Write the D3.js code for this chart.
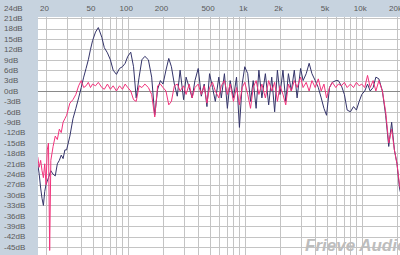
<!DOCTYPE html>
<html><head><meta charset="utf-8">
<script src="https://cdn.jsdelivr.net/npm/d3@7"></script>
<style>html,body{margin:0;padding:0;background:#fff;}svg{display:block;}</style>
</head><body>
<svg id="c" width="400" height="255"></svg>
<script>
const freqs = [17,17.5,18,18.5,19,19.5,20,20.5,21,21.5,22,23,24,25,26,27,28,29,30,32,34,36,38,40,42,44,46,48,50,53,56,60,63,67,71,75,80,85,90,95,100,106,112,118,125,132,140,150,160,170,180,190,200,212,224,236,250,265,280,300,315,335,355,375,400,425,450,475,500,530,560,600,630,670,710,750,800,850,900,950,1000,1060,1120,1180,1250,1320,1400,1500,1600,1700,1800,1900,2000,2120,2240,2360,2500,2650,2800,3000,3150,3350,3550,3750,4000,4250,4500,4750,5000,5300,5600,6000,6300,6700,7100,7500,8000,8500,9000,9500,10000,10600,11200,11800,12500,13200,14000,15000,16000,17000,18000,19000,20000,21000,22000];

const navyDb = [-21,-24,-28,-31,-33,-29,-27,-26,-25,-24,-23,-24,-24.5,-21,-20,-18.5,-19.5,-17,-17,-13,-8,-5,-2,1,4,6.5,9,12,14.5,17,18.3,15.5,12.5,11,9,6,4.8,6.5,7,8,10,11.2,7,-2,4,9,10,9,4,-7,0.5,3,2,6,9.4,7,2,-1.5,6,-2.5,4,1,-2,3,6.5,-1.5,2,-4.5,5,1,-3,4,-2,5,-5,3,-2,4,-10.5,2,7,5,-3,3,-5,6,-2,5,-4,4,-6,6,-1,6,-3,5,0,6,-2,6.5,3,5,8,5,3,1,-2,-5,-7,1,2.5,3,3,1.5,-1,-5.5,-6,-4.5,-5.5,-3,-1,0,2,0,1,4,3.5,0,-7,-16,-9,-17,-21,-28,-31];

const pinkDb = [-19,-22,-20,-23,-25,-21,-27,-17,-15,-46,-20,-16,-13,-14,-11,-12,-9,-8,-7,-3.5,-2.5,-1,1.5,3,1,1.5,2.5,1,2,1.5,2.5,1,0.5,2,0.5,1.5,0,1.5,0.5,2,1,0,-2.5,-3,1.5,1,2,1,-1,-7.5,1.5,2,1,0,-4,-3,1.5,2,0,1.5,-1,2,-2,1,2,-1,1.5,-3.5,1,2.5,0,-2,1.5,3,-1,2,-3,1,-4,1,2.5,-1,-5,1,3,-1,2,-2,3,0,2.5,-3,1.5,-1,-4,2,0,3,1,4,1,2.5,0,3,1,3.5,0,2,-2,1,2.5,1,2,1.5,2.5,1,2,1,2.5,1.5,2,1,4.5,1,3,0,3,0,-6,-15,-11,-17,-21,-27,-30];

const yTickValues = [24,21,18,15,12,9,6,3,0,-3,-6,-9,-12,-15,-18,-21,-24,-27,-30,-33,-36,-39,-42,-45];
const yGridValues = [21,18,15,12,9,6,3,0,-3,-6,-9,-12,-15,-18,-21,-24,-27,-30,-33,-36,-39,-42,-45,-48];
const xTickFreqs = [20,50,100,200,500,1000,2000,5000,10000,20000];
const xTickLabels = ["20","50","100","200","500","1k","2k","5k","10k","20k"];
const xGridFreqs = [20,30,40,50,60,70,80,90,100,200,300,400,500,600,700,800,900,1000,2000,3000,4000,5000,6000,7000,8000,9000,10000,20000];

const W = 400, H = 255;
const plotL = 38, plotT = 17;
const svg = d3.select("#c");
const x = d3.scaleLog().domain([20, 20000]).range([46, 397]);
const y = d3.scaleLinear().domain([-45, 24]).range([247, 7.8]);

// panels
svg.append("rect").attr("x",0).attr("y",0).attr("width",W).attr("height",H).attr("fill","#c7d3df");
svg.append("rect").attr("x",plotL).attr("y",plotT).attr("width",W-plotL).attr("height",H-plotT).attr("fill","#ffffff");

const grid = svg.append("g").attr("shape-rendering","crispEdges");
grid.selectAll("line.v").data(xGridFreqs).join("line")
  .attr("x1", d => Math.round(x(d)) + 0.5).attr("x2", d => Math.round(x(d)) + 0.5)
  .attr("y1", plotT).attr("y2", H)
  .attr("stroke", "#c4c4c4").attr("stroke-width", 1);
grid.selectAll("line.h").data(yGridValues).join("line")
  .attr("x1", plotL).attr("x2", W)
  .attr("y1", d => Math.round(y(d)) + 0.5).attr("y2", d => Math.round(y(d)) + 0.5)
  .attr("stroke", d => d === 0 ? "#8a8a8a" : "#c4c4c4").attr("stroke-width", 1);

// labels
svg.append("g").selectAll("text").data(yTickValues).join("text")
  .attr("x", 4).attr("y", d => y(d)).attr("dy", "0.35em")
  .attr("font-family", "Liberation Sans, Arial, sans-serif").attr("font-size", 8)
  .attr("fill", "#5a5a5a").text(d => d + "dB");
svg.append("g").selectAll("text").data(xTickFreqs).join("text")
  .attr("x", d => x(d) - 1.5).attr("y", 8).attr("dy", "0.35em").attr("text-anchor", "middle")
  .attr("font-family", "Liberation Sans, Arial, sans-serif").attr("font-size", 8)
  .attr("fill", "#5a5a5a").text((d, i) => xTickLabels[i]);

// clip
svg.append("clipPath").attr("id","pc").append("rect").attr("x",plotL).attr("y",plotT).attr("width",W-plotL).attr("height",H-plotT);

const line = d3.line().x(d => x(d[0])).y(d => y(d[1]));
const g = svg.append("g").attr("clip-path","url(#pc)");
g.append("path").datum(freqs.map((f,i) => [f, navyDb[i]]))
  .attr("d", line).attr("fill","none").attr("stroke","#34346a").attr("stroke-width",1);
g.append("path").datum(freqs.map((f,i) => [f, pinkDb[i]]))
  .attr("d", line).attr("fill","none").attr("stroke","#f2337c").attr("stroke-width",1);

// watermark
svg.append("text").attr("x", 305).attr("y", 251)
  .attr("font-family","Liberation Sans, Arial, sans-serif").attr("font-size",17)
  .attr("font-style","italic").attr("font-weight","bold")
  .attr("fill","#bdbdbd").text("Frieve Audio");
</script>
</body></html>
